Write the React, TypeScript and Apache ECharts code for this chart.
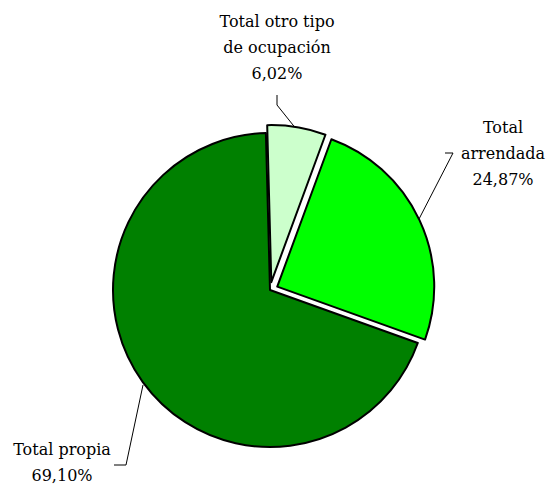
import React, { useEffect, useRef } from "react";
import * as echarts from "echarts";

const categories = ["Total otro tipo de ocupación", "Total arrendada", "Total propia"];
const labelNames = ["Total otro tipo\nde ocupación", "Total\narrendada", "Total propia"];
const values = [6.02, 24.87, 69.1];
const colors = ["#CCFFCC", "#00FF00", "#008000"];
const explodeOffset = [8, 8, 0];

export default function App() {
  const ref = useRef<HTMLDivElement>(null);
  useEffect(() => {
    if (!ref.current) return;
    const chart = echarts.init(ref.current, null, { renderer: "svg" });
    const cx = 270;
    const cy = 290;
    const startAngle = 91.5;
    const total = values.reduce((a, b) => a + b, 0);
    const labelPos = [
      { x: 277, y: 47, pts: [[297, 130], [277, 105], [277, 95]] },
      { x: 503, y: 153, pts: [[419, 219], [453, 153], [445, 153]] },
      { x: 62, y: 462, pts: [[143, 385], [126, 465], [114, 465]] },
    ];
    let cum = 0;
    const series = values.map((v, i) => {
      const mid = startAngle - (360 * (cum + v / 2)) / total;
      cum += v;
      const rad = (mid * Math.PI) / 180;
      const ox = explodeOffset[i] * Math.cos(rad);
      const oy = -explodeOffset[i] * Math.sin(rad);
      return {
        type: "pie",
        center: [cx + ox, cy + oy],
        radius: [0, 157],
        startAngle,
        clockwise: true,
        silent: true,
        emphasis: { disabled: true },
        label: {
          fontFamily: "'DejaVu Serif', serif",
          fontSize: 16,
          lineHeight: 26,
          color: "#000",
          align: "center",
          overflow: "none",
          formatter: (p: any) =>
            labelNames[p.dataIndex] + "\n" + Number(p.value).toFixed(2).replace(".", ",") + "%",
        },
        labelLine: { lineStyle: { color: "#000", width: 1 } },
        labelLayout: (params: any) => {
          const lp = labelPos[params.dataIndex];
          return {
            x: lp.x,
            y: lp.y,
            align: "center",
            verticalAlign: "middle",
            labelLinePoints: lp.pts,
          };
        },
        data: categories.map((c, j) => ({
          name: c,
          value: values[j],
          itemStyle:
            j === i
              ? { color: colors[j], borderColor: "#000", borderWidth: 2 }
              : { color: "transparent", borderWidth: 0 },
          label: { show: j === i },
          labelLine: { show: j === i },
        })),
      };
    });
    chart.setOption({ animation: false, series });
    return () => chart.dispose();
  }, []);
  return (
    <div
      ref={ref}
      style={{ position: "fixed", left: 0, top: 0, width: 547, height: 484, background: "#fff" }}
    />
  );
}
